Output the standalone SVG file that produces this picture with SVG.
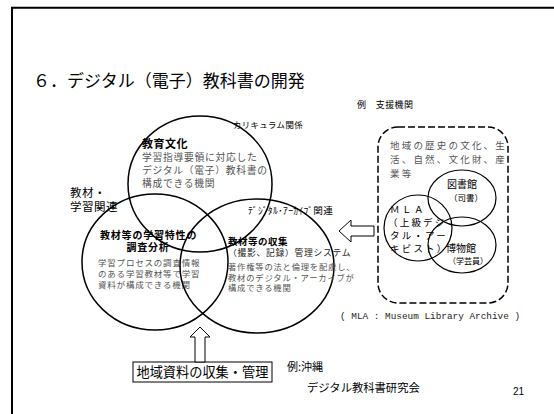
<svg xmlns="http://www.w3.org/2000/svg" width="554" height="414" viewBox="0 0 554 414">
<style>
.jp{font-family:"Noto Sans CJK JP","Noto Sans CJK SC",sans-serif;}
.blk{fill:#000;}
.gry{fill:#555;}
.b{font-weight:bold;}
.ring{fill:none;stroke:#000;stroke-width:1.5;}
.sring{fill:none;stroke:#000;stroke-width:1.2;}
.harrow{fill:#fff;stroke:#000;stroke-width:1;}
</style>
<rect x="0" y="0" width="554" height="414" fill="#fff"/>
<path d="M12,420 V7.7 H560" fill="none" stroke="#000" stroke-width="2"/>

<g id="title">
<text class="jp blk" x="33" y="86.5" font-size="17">６．デジタル（電子）教科書の開発</text>
</g>

<g id="circle-kyoiku">
<ellipse class="ring" cx="200" cy="184" rx="72" ry="68"/>
<text class="jp blk b" x="142" y="148.4" font-size="11" letter-spacing="0.5">教育文化</text>
<text class="jp gry" x="142" y="161" font-size="9.8" letter-spacing="0.7">学習指導要領に対応した</text>
<text class="jp gry" x="142" y="174" font-size="9.8" letter-spacing="0.7">デジタル（電子）教科書の</text>
<text class="jp gry" x="142" y="187" font-size="9.8" letter-spacing="0.7">構成できる機関</text>
<text class="jp blk" x="233" y="127.5" font-size="8.4" letter-spacing="0.4">カリキュラム関係</text>
</g>

<g id="circle-kyozai">
<ellipse class="ring" cx="155" cy="262" rx="73" ry="68"/>
<text class="jp blk" x="70" y="196.5" font-size="11.5" letter-spacing="0.5">教材・</text>
<text class="jp blk" x="70" y="210.5" font-size="11.5" letter-spacing="0.5">学習関連</text>
<text class="jp blk b" x="100" y="239" font-size="10" letter-spacing="0.8">教材等の学習特性の</text>
<text class="jp blk b" x="148" y="251" font-size="10" letter-spacing="0.8" text-anchor="middle">調査分析</text>
<text class="jp gry" x="98" y="265.5" font-size="8.5" letter-spacing="0.8">学習プロセスの調査情報</text>
<text class="jp gry" x="98" y="276.5" font-size="8.5" letter-spacing="0.8">のある学習教材等で学習</text>
<text class="jp gry" x="98" y="287.5" font-size="8.5" letter-spacing="0.8">資料が構成できる機関</text>
</g>

<g id="circle-shushu">
<ellipse class="ring" cx="257" cy="266" rx="77" ry="67"/>
<text class="jp blk" x="248" y="214" font-size="9.6" letter-spacing="0.3">ﾃﾞｼﾞﾀﾙ･ｱｰｶｲﾌﾞ関連</text>
<text class="jp blk b" x="228" y="245" font-size="9.5" letter-spacing="0.5">教材等の収集</text>
<text class="jp" fill="#222" x="228" y="256" font-size="8.8" letter-spacing="0.7">（撮影、記録）管理システム</text>
<text class="jp gry" x="228" y="269.5" font-size="8.3" letter-spacing="0.8">著作権等の法と倫理を配慮し、</text>
<text class="jp gry" x="228" y="280.5" font-size="8.3" letter-spacing="0.8">教材のデジタル・アーカイブが</text>
<text class="jp gry" x="228" y="290.5" font-size="8.3" letter-spacing="0.8">構成できる機関</text>
</g>

<g id="support-box">
<text class="jp blk" x="357" y="108" font-size="9" letter-spacing="0.4">例　支援機関</text>
<rect x="378" y="127" width="130" height="176" rx="20" ry="20" fill="none" stroke="#000" stroke-width="1.5" stroke-dasharray="7,3"/>
<text class="jp gry" x="390" y="149" font-size="9.5" letter-spacing="2.2">地域の歴史の文化、生</text>
<text class="jp gry" x="390" y="163" font-size="9.5" letter-spacing="2.2">活、自然、文化財、産</text>
<text class="jp gry" x="390" y="177" font-size="9.5" letter-spacing="2.2">業等</text>
</g>

<g id="circle-toshokan">
<ellipse class="sring" cx="462" cy="198" rx="34" ry="28"/>
<text class="jp blk" x="462" y="188" font-size="10" text-anchor="middle">図書館</text>
<text class="jp blk" x="466" y="200.5" font-size="8.5" text-anchor="middle">（司書）</text>
</g>

<g id="circle-hakubutsukan">
<ellipse class="sring" cx="462" cy="245" rx="34" ry="28"/>
<text class="jp blk" x="461" y="252" font-size="10" text-anchor="middle">博物館</text>
<text class="jp blk" x="468" y="263.5" font-size="8" text-anchor="middle">（学芸員）</text>
</g>

<g id="circle-mla">
<ellipse class="sring" cx="418" cy="228" rx="34" ry="33"/>
<text class="jp blk" x="390" y="213" font-size="9.5" letter-spacing="2.5">ＭＬＡ</text>
<text class="jp blk" x="388" y="226" font-size="9.5" letter-spacing="2.2">（上級デジ</text>
<text class="jp blk" x="390" y="239" font-size="9.5" letter-spacing="2.2">タル・アー</text>
<text class="jp blk" x="390" y="252" font-size="9.5" letter-spacing="2.2">キビスト）</text>
</g>

<g id="mla-note">
<text font-family="Liberation Mono, DejaVu Sans Mono, monospace" fill="#222" x="340" y="318.5" font-size="9.4">( MLA : Museum Library Archive )</text>
</g>

<g id="box-chiiki">
<rect x="133" y="362" width="139" height="20" fill="#fff" stroke="#000" stroke-width="1"/>
<text class="jp blk" x="136.5" y="377" font-size="13.2">地域資料の収集・管理</text>
</g>

<g id="connectors">
<polygon class="harrow" points="200,327 210,337 205,337 205,362 195,362 195,337 190,337"/>
<polygon class="harrow" points="339,231 351,220 351,226 374,226 374,236 351,236 351,242"/>
</g>

<g id="footer">
<text class="jp blk" x="287" y="371" font-size="11">例:沖縄</text>
<text class="jp blk" x="307" y="392" font-size="11.3">デジタル教科書研究会</text>
<text font-family="Liberation Sans, Arial, sans-serif" fill="#000" x="513" y="395" font-size="10">21</text>
</g>
</svg>
